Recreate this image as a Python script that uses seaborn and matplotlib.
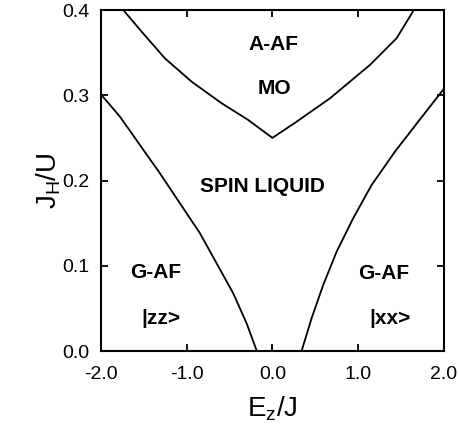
import numpy as np
import pandas as pd
import matplotlib
matplotlib.use("Agg")
import matplotlib.pyplot as plt
import seaborn as sns

# Digitized phase boundaries
upper_x = [-1.740, -1.525, -1.254, -0.942, -0.592, -0.282, 0.0,
           0.282, 0.671, 1.137, 1.448, 1.650]
upper_y = [0.400, 0.3745, 0.3433, 0.3159, 0.2906, 0.2710, 0.250,
           0.269, 0.2964, 0.3355, 0.3668, 0.400]

left_x = [-2.0, -1.778, -1.545, -1.312, -1.079, -0.845, -0.651, -0.457,
          -0.301, -0.182]
left_y = [0.301, 0.2748, 0.2416, 0.2084, 0.1733, 0.1381, 0.1029, 0.0677,
          0.0325, 0.0]

right_x = [0.340, 0.457, 0.592, 0.749, 0.942, 1.157, 1.429, 1.700, 2.0]
right_y = [0.0, 0.0384, 0.0774, 0.1165, 0.1557, 0.1947, 0.2338, 0.2690,
           0.3075]

x_ticks = [-2.0, -1.0, 0.0, 1.0, 2.0]
y_ticks = [0.0, 0.1, 0.2, 0.3, 0.4]

labels = ["A-AF", "MO", "SPIN LIQUID", "G-AF", "|zz>", "G-AF", "|xx>"]
label_x = [0.009, 0.029, -0.122, -1.361, -1.302, 1.30, 1.37]
label_y = [0.360, 0.308, 0.1927, 0.0919, 0.038, 0.091, 0.038]

sns.set_theme(style="ticks")
plt.rcParams["font.family"] = ["Liberation Sans", "DejaVu Sans"]
plt.rcParams["mathtext.fontset"] = "custom"
plt.rcParams["mathtext.rm"] = "Liberation Sans"
plt.rcParams["mathtext.it"] = "Liberation Sans:italic"
plt.rcParams["text.color"] = "black"
plt.rcParams["axes.labelcolor"] = "black"

fig = plt.figure(figsize=(4.59, 4.26), dpi=100)
ax = fig.add_axes([0.220, 0.176, 0.747, 0.8005])

for xs, ys in [(upper_x, upper_y), (left_x, left_y), (right_x, right_y)]:
    df = pd.DataFrame({"x": xs, "y": ys})
    sns.lineplot(data=df, x="x", y="y", ax=ax, color="black", lw=1.3,
                 sort=False, estimator=None)

ax.set_xlim(-2, 2)
ax.set_ylim(0, 0.4)
ax.set_xticks(x_ticks)
ax.set_yticks(y_ticks)
ax.set_xticklabels([f"{v:.1f}" for v in x_ticks])
ax.set_yticklabels([f"{v:.1f}" for v in y_ticks])
ax.tick_params(direction="in", length=5, width=1.3, top=True, right=True,
               labelsize=14, pad=8, colors="black")
ax.tick_params(axis="x", pad=11)
for s in ax.spines.values():
    s.set_linewidth(1.5)
    s.set_color("black")

ax.set_xlabel("E$_\\mathregular{z}$/J", fontsize=20, labelpad=8)
ax.set_ylabel("J$_\\mathregular{H}$/U", fontsize=20, labelpad=0)

for t, x, y in zip(labels, label_x, label_y):
    ax.text(x, y, t, ha="center", va="center", fontsize=15,
            fontweight="bold", color="black")

fig.savefig("out.png", dpi=100)
